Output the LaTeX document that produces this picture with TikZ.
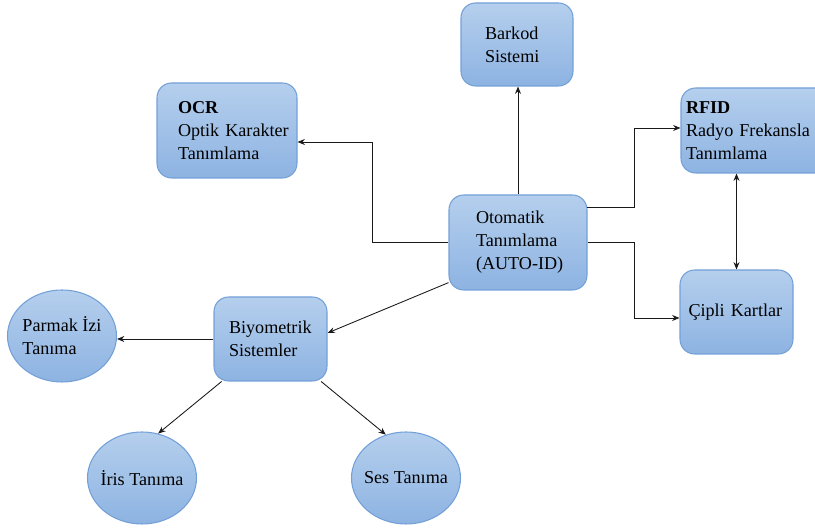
\documentclass[tikz,border=0pt]{standalone}
\usepackage{fontspec}
\setmainfont{Liberation Serif}
\usetikzlibrary{arrows.meta,shapes.geometric}
\definecolor{fillTop}{HTML}{B5CFED}
\definecolor{fillBot}{HTML}{8DB3E2}
\definecolor{rim}{HTML}{74A0D8}
\tikzset{
  base/.style={draw=rim, line width=0.8pt, top color=fillTop, bottom color=fillBot,
    font=\fontsize{13.6pt}{17.3pt}\selectfont, text=black},
  box/.style={base, rectangle, rounded corners=11pt, inner ysep=0pt, align=left},
  oval/.style={base, ellipse, inner sep=-4pt, minimum width=81.75pt, minimum height=69pt, align=left},
  link/.style={line width=0.65pt, black!90, -{Stealth[length=5.5pt,width=4.5pt]}},
}
\begin{document}
\begin{tikzpicture}[x=0.75pt,y=-0.75pt]
  \useasboundingbox (0,0) rectangle (815,530);

  % rounded boxes
  \node[box, minimum width=84pt, minimum height=62.25pt, text width=48pt, inner xsep=18pt]
    (barkod) at (517,44.5) {Barkod\\Sistemi};
  \node[box, minimum width=105pt, minimum height=71.25pt, text width=73.5pt, inner xsep=15.75pt]
    (ocr) at (227,130.5) {\textbf{OCR}\\\mbox{Optik Karakter}\\Tanımlama};
  \node[box, minimum width=103.5pt, minimum height=71.25pt, text width=63pt, inner xsep=20.25pt]
    (auto) at (518,242.5) {Otomatik\\Tanımlama\\\mbox{(AUTO-ID)}};
  \node[box, minimum width=115.5pt, minimum height=63.75pt, text width=108pt, inner xsep=3.75pt]
    (rfid) at (758,130.5) {\textbf{RFID}\\\mbox{Radyo Frekansla}\\Tanımlama};
  \node[box, minimum width=84.75pt, minimum height=63pt, text width=72pt, inner xsep=4pt]
    (cipli) at (736.5,312) {\mbox{Çipli Kartlar}};
  \node[box, minimum width=84.75pt, minimum height=63pt, text width=62.25pt, inner xsep=11.25pt]
    (bio) at (270.5,339) {Biyometrik\\Sistemler};

  % ovals
  \node[oval] (parmak) at (62,336) {\mbox{Parmak İzi}\\Tanıma};
  \node[oval] (iris) at (142,478) {\mbox{İris Tanıma}};
  \node[oval] (ses) at (406,478) {\mbox{Ses Tanıma}};

  % bend points of the elbow connectors
  \coordinate (ocrBend) at (372,142);
  \coordinate (rfidOut) at (587,207);
  \coordinate (rfidBend) at (634,128);
  \coordinate (cipBend) at (634,318);

  % connectors
  \draw[link] (auto.north) -- (auto.north |- barkod.south);
  \draw[link] (auto.west) -| (ocrBend) -- (ocrBend -| ocr.east);
  \draw[link] (rfidOut) -| (rfidBend) -- (rfidBend -| rfid.west);
  \draw[link] (auto.east) -| (cipBend) -- (cipBend -| cipli.west);
  \draw[link, {Stealth[length=5.5pt,width=4.5pt]}-{Stealth[length=5.5pt,width=4.5pt]}]
    (rfid.south -| cipli.north) -- (cipli.north);
  \draw[link] (auto.210) -- (bio.6);
  \draw[link] (bio.west) -- (bio.west -| parmak.east);
  \draw[link] (bio.221) -- (iris.70);
  \draw[link] (bio.-40) -- (ses.115);
\end{tikzpicture}
\end{document}
